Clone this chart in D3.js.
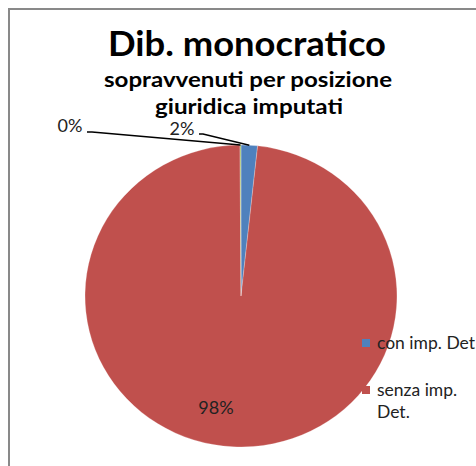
<!DOCTYPE html>
<html><head><meta charset="utf-8">
<script src="https://cdn.jsdelivr.net/npm/d3@7"></script>
<style>body{margin:0;background:#fff}svg{display:block}</style>
</head><body>
<svg id="c" width="476" height="466"></svg>
<script>
const categories = ["con imp. Det", "senza imp. Det.", ""];
const values = [1.7, 98.2, 0.1];
const labels = ["2%", "98%", "0%"];
const colors = ["#4F81BD", "#C0504D", "#9BBB59"];
const legendNames = ["con imp. Det", "senza imp. Det."];

const svg = d3.select("#c");
const W = 476, H = 466;
svg.append("path").attr("d", `M9,${H+5} L9,9 L${W+5},9`).attr("fill","none").attr("stroke","#898989").attr("stroke-width",2);

const font = "Lato, 'Open Sans', sans-serif";
function title(txt, x, y, size, len) {
  svg.append("text").attr("x",x).attr("y",y).attr("text-anchor","middle")
    .attr("font-family",font).attr("font-weight","bold").attr("font-size",size).attr("fill","#000")
    .attr("textLength",len).attr("lengthAdjust","spacingAndGlyphs").text(txt);
}
title("Dib. monocratico", 247, 56, 35, 278);
title("sopravvenuti per posizione", 248, 87, 21, 288);
title("giuridica imputati", 249, 114, 21, 188);

const cx = 241, cy = 296, r = 151, sx = 1.033;
const pie = d3.pie().sort(null).value(d => d)(values);
const arc = d3.arc().innerRadius(0).outerRadius(r);
const g = svg.append("g").attr("transform", `translate(${cx},${cy}) scale(${sx},1)`);
g.selectAll("path").data(pie).join("path")
  .attr("d", arc).attr("fill", (d,i) => colors[i])
  .attr("stroke", "#fff").attr("stroke-width", 0.4).attr("stroke-opacity",0.6);

function edge(d, rr) {
  const a = (d.startAngle + d.endAngle) / 2;
  return [cx + sx * rr * Math.sin(a), cy - rr * Math.cos(a)];
}
const labelPos = [
  {x:182, y:135, lead:[[199,134],[203,134]]},
  {x:216, y:414, lead:null},
  {x:70, y:132, lead:[[87,132],[92,132]]}
];
pie.forEach((d,i) => {
  const L = labelPos[i];
  if (L.lead) {
    const e = edge(d, r);
    svg.append("path").attr("d", d3.line()(L.lead.concat([e]))).attr("fill","none").attr("stroke","#000").attr("stroke-width",1.5);
  }
  svg.append("text").attr("x",L.x).attr("y",L.y).attr("text-anchor","middle")
    .attr("font-family",font).attr("font-size",18).attr("fill","#222").text(labels[i]);
});

const leg = svg.append("g");
const legY = [343, 390];
legendNames.forEach((n,i) => {
  leg.append("rect").attr("x",362).attr("y",legY[i]-4).attr("width",8).attr("height",8).attr("fill",colors[i]);
});
const fs = 17.5;
leg.append("text").attr("x",377).attr("y",349).attr("font-family",font).attr("font-size",fs).attr("fill","#222").text(legendNames[0]);
const t2 = leg.append("text").attr("font-family",font).attr("font-size",fs).attr("fill","#222");
t2.append("tspan").attr("x",377).attr("y",396).text("senza imp.");
t2.append("tspan").attr("x",377).attr("y",418).text("Det.");
</script>
</body></html>
